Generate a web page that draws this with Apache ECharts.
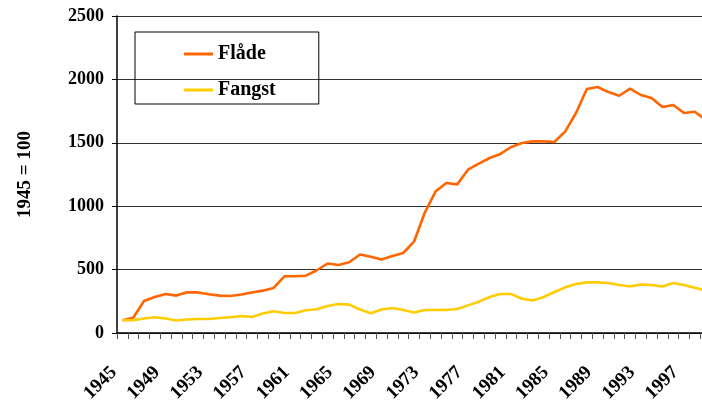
<!DOCTYPE html>
<html>
<head>
<meta charset="utf-8">
<script src="https://cdn.jsdelivr.net/npm/echarts@6/dist/echarts.min.js"></script>
<style>
html,body{margin:0;padding:0;background:#fff;}
#chart{width:702px;height:405px;}
</style>
</head>
<body>
<div id="chart"></div>
<script>
var years = ['1945','1946','1947','1948','1949','1950','1951','1952','1953','1954',
  '1955','1956','1957','1958','1959','1960','1961','1962','1963','1964',
  '1965','1966','1967','1968','1969','1970','1971','1972','1973','1974',
  '1975','1976','1977','1978','1979','1980','1981','1982','1983','1984',
  '1985','1986','1987','1988','1989','1990','1991','1992','1993','1994',
  '1995','1996','1997','1998','1999'];
var flade = [100,120,252,284,308,295,321,320,305,295,
  292,303,320,334,355,447,447,452,495,548,
  536,558,619,602,579,607,631,720,950,1117,
  1183,1172,1288,1335,1380,1412,1467,1498,1511,1511,
  1506,1590,1735,1924,1940,1900,1871,1927,1877,1853,
  1782,1798,1735,1745,1680];
var fangst = [100,100,114,124,114,98,106,111,111,118,
  124,134,126,153,171,158,158,179,187,213,
  229,224,185,155,185,197,182,162,181,181,
  182,189,218,247,284,307,307,270,257,284,
  323,360,386,399,399,394,378,367,383,378,
  367,394,378,357,335];
var yTicks = [0,500,1000,1500,2000,2500];

var FONT = '"Liberation Serif", "Times New Roman", serif';
var chart = echarts.init(document.getElementById('chart'), null, {renderer:'canvas'});
chart.setOption({
  animation: false,
  backgroundColor: '#ffffff',
  grid: {left: 117, width: 594, top: 16, height: 317, containLabel: false, outerBoundsMode: 'none'},
  legend: {
    orient: 'vertical',
    left: 135, top: 32,
    padding: [12, 43, 4, 49],
    borderColor: '#000', borderWidth: 1,
    itemGap: 16,
    itemWidth: 29, itemHeight: 3,
    icon: 'rect',
    textStyle: {fontFamily: FONT, fontWeight: 'bold', fontSize: 20, color: '#000', padding: [0,0,0,0]},
    data: ['Flåde', 'Fangst']
  },
  xAxis: {
    type: 'category',
    data: years,
    boundaryGap: true,
    axisLine: {lineStyle: {color: '#000', width: 1.5}},
    axisTick: {show: true, interval: 0, length: 6, lineStyle: {color: '#555'}},
    axisLabel: {
      interval: 3, rotate: 45, margin: 28, padding: [0, 12, 0, 0],
      fontFamily: FONT, fontWeight: 'bold', fontSize: 19, color: '#000'
    },
    splitLine: {show: false}
  },
  yAxis: {
    type: 'value',
    min: yTicks[0], max: yTicks[yTicks.length-1], interval: 500,
    name: '1945 = 100',
    nameLocation: 'middle',
    nameRotate: 90,
    nameGap: 82,
    nameTextStyle: {fontFamily: FONT, fontWeight: 'bold', fontSize: 19, color: '#000'},
    axisLine: {show: true, lineStyle: {color: '#000', width: 1.5}},
    axisTick: {show: true, length: 5, inside: false, lineStyle: {color: '#000'}},
    axisLabel: {margin: 13, fontFamily: FONT, fontWeight: 'bold', fontSize: 18, color: '#000',
      formatter: function (v) { return String(v); }},
    splitLine: {show: true, lineStyle: {color: '#333', width: 1.2}}
  },
  series: [
    {name: 'Flåde', type: 'line', data: flade, symbol: 'none', smooth: false,
     itemStyle: {color: '#FF6600'}, lineStyle: {color: '#FF6600', width: 2.6}},
    {name: 'Fangst', type: 'line', data: fangst, symbol: 'none', smooth: false,
     itemStyle: {color: '#FFCC00'}, lineStyle: {color: '#FFCC00', width: 2.6}}
  ]
});
</script>
</body>
</html>
